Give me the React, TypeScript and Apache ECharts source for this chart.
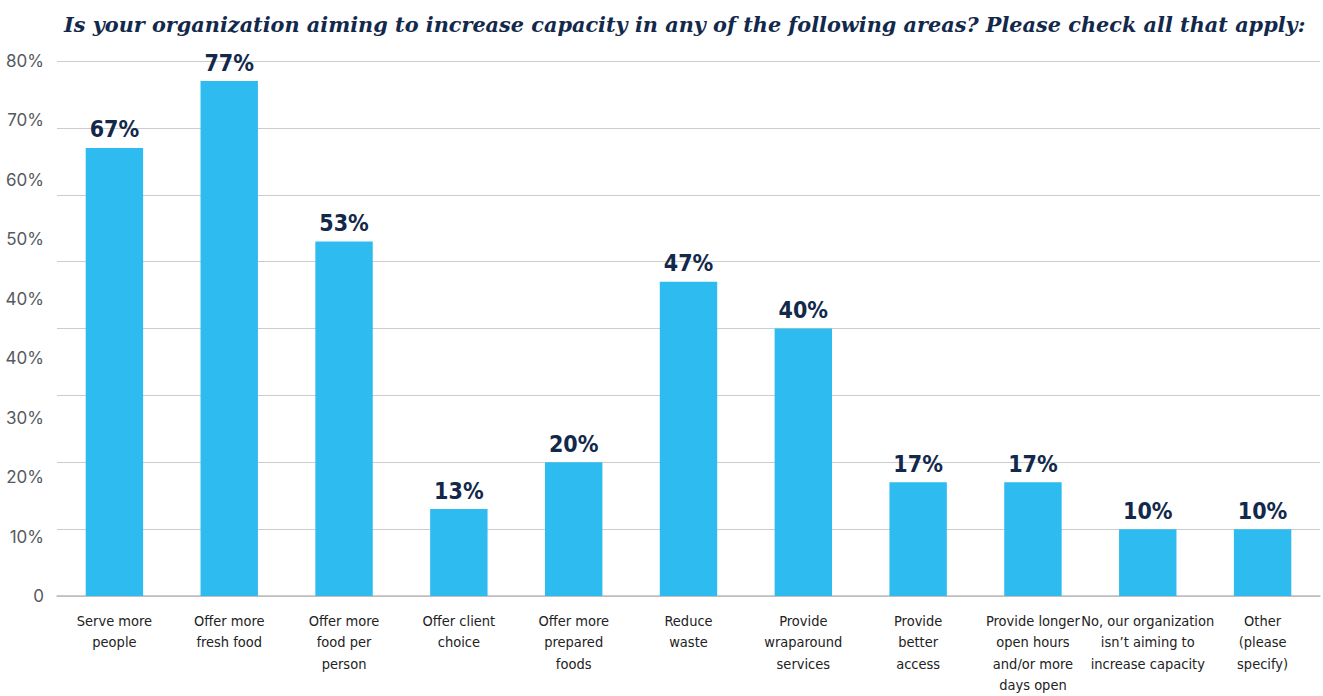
import React, { useEffect, useRef } from "react";
import * as echarts from "echarts";

const categories = [
  "Serve more\npeople",
  "Offer more\nfresh food",
  "Offer more\nfood per\nperson",
  "Offer client\nchoice",
  "Offer more\nprepared\nfoods",
  "Reduce\nwaste",
  "Provide\nwraparound\nservices",
  "Provide\nbetter\naccess",
  "Provide longer\nopen hours\nand/or more\ndays open",
  "No, our organization\nisn\u2019t aiming to\nincrease capacity",
  "Other\n(please\nspecify)",
];
const values = [67, 77, 53, 13, 20, 47, 40, 17, 17, 10, 10];
const yTickLabels = ["0", "10%", "20%", "30%", "40%", "40%", "50%", "60%", "70%", "80%"];
const title = "Is your organization aiming to increase capacity in any of the following areas? Please check all that apply:";

const condensed = "'DejaVu Sans Condensed', 'Liberation Sans Narrow', 'Roboto Condensed', sans-serif";

export default function App() {
  const ref = useRef<HTMLDivElement>(null);
  useEffect(() => {
    if (!ref.current) return;
    const chart = echarts.init(ref.current, null, { renderer: "svg" });
    chart.setOption({
      animation: false,
      title: {
        text: title,
        left: 59,
        top: 9,
        textStyle: {
          fontFamily: "'DejaVu Serif', serif",
          fontStyle: "italic",
          fontWeight: "bold",
          fontSize: 20.8,
          color: "#13294b",
        },
      },
      grid: { left: 57, right: 3, top: 61, bottom: 94, containLabel: false },
      xAxis: {
        type: "category",
        data: categories,
        axisTick: { show: false },
        axisLine: { lineStyle: { color: "#bbbbbb", width: 1.5 } },
        axisLabel: {
          interval: 0,
          margin: 14,
          fontFamily: condensed,
          fontSize: 14.5,
          lineHeight: 21.5,
          color: "#222222",
        },
      },
      yAxis: [
        {
          type: "value",
          min: 0,
          max: 80,
          interval: 10,
          axisLabel: { show: false },
          axisLine: { show: false },
          axisTick: { show: false },
          splitLine: { lineStyle: { color: "#cccccc", width: 1.2 } },
        },
        {
          type: "category",
          position: "left",
          data: yTickLabels,
          boundaryGap: false,
          axisLine: { show: false },
          axisTick: { show: false },
          splitLine: { show: false },
          axisLabel: {
            interval: 0,
            margin: 13,
            fontFamily: "Inter, 'Noto Sans', sans-serif",
            fontSize: 17,
            color: "#555a60",
          },
        },
      ],
      series: [
        {
          type: "bar",
          yAxisIndex: 0,
          data: values,
          barWidth: "50%",
          itemStyle: { color: "#2ebbef" },
          label: {
            show: true,
            position: "top",
            distance: 7,
            formatter: "{c}%",
            fontFamily: condensed,
            fontWeight: "bold",
            fontSize: 23,
            color: "#13294b",
          },
        },
      ],
    });
    return () => chart.dispose();
  }, []);
  return (
    <div
      ref={ref}
      style={{ position: "absolute", left: 0, top: 0, width: 1323, height: 696 }}
    />
  );
}
